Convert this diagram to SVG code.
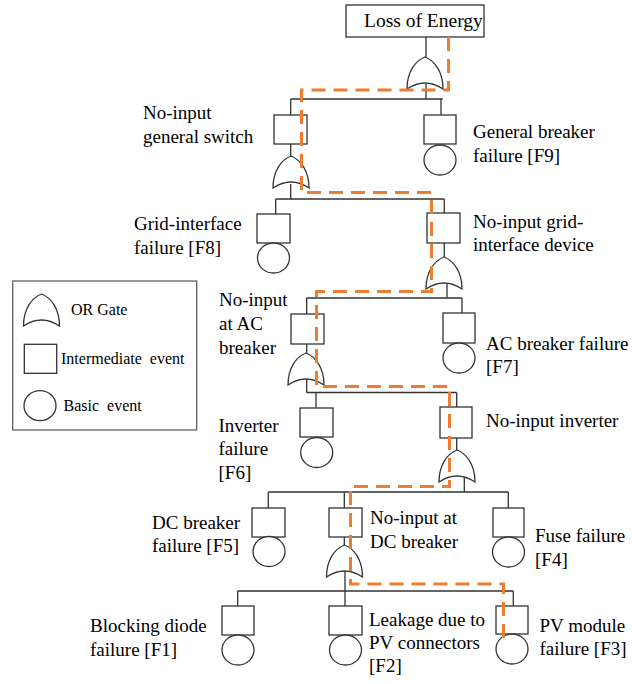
<svg xmlns="http://www.w3.org/2000/svg" xmlns:xlink="http://www.w3.org/1999/xlink" width="632" height="684" viewBox="0 0 632 684">
<style>
.ln{stroke:#333;stroke-width:1.3;fill:none}
.bx{stroke:#333;stroke-width:1.3;fill:#fff}
text{font-family:'Liberation Serif','Times New Roman','DejaVu Serif',serif;fill:#000}
.t{font-size:19px}
.lg{font-size:16px}
.path{stroke:#ED7D31;stroke-width:3;fill:none;stroke-dasharray:14 8}
</style>
<defs>
<path id="or" d="M -18,32 C -18,15 -10,4 0,0 C 10,4 18,15 18,32 Q 0,20 -18,32 Z" stroke="#333" stroke-width="1.3" fill="#fff"/>
</defs>
<rect width="632" height="684" fill="#fff"/>

<g id="connectors">
<path class="ln" d="M426,37V57 M426,84V99 M290.7,99H442.7 M290.7,99V115 M441,99V115"/>
<path class="ln" d="M290.7,144V156 M290.7,184V199 M275.7,199H444.3 M275.7,199V214 M444.3,199V213"/>
<path class="ln" d="M444.3,243V257 M447,284V298 M306.7,298H462 M306.7,298V314 M462,298V313"/>
<path class="ln" d="M306.7,344V353 M306.7,378V392.5 M306.7,392.5H456.7 M316,392.5V408 M456.7,392.5V407"/>
<path class="ln" d="M456.7,438V450 M464.3,477V492 M268.3,492H508.3 M268.3,492V508 M344.3,492V508 M508.3,492V508"/>
<path class="ln" d="M344.3,537V545 M345,571V591 M237.7,591H513.3 M237.7,591V606 M345,591V606 M513.3,591V606"/>
</g>

<g id="top-event">
<rect class="bx" x="346" y="5" width="138" height="32"/>
<text class="t" x="364" y="27" style="font-size:19.5px">Loss of Energy</text>
</g>

<g id="gate1"><use xlink:href="#or" transform="translate(425,57)"/></g>

<g id="no-input-general-switch">
<rect class="bx" x="274" y="115" width="33" height="29"/>
<text class="t" x="143" y="119">No-input</text>
<text class="t" x="143" y="142.5">general switch</text>
</g>
<g id="general-breaker-failure">
<rect class="bx" x="424" y="115" width="32" height="29"/>
<ellipse class="bx" cx="440" cy="160" rx="16" ry="15"/>
<text class="t" x="473" y="138">General breaker</text>
<text class="t" x="473" y="161.5">failure [F9]</text>
</g>

<g id="gate2"><use xlink:href="#or" transform="translate(291,156)"/></g>

<g id="grid-interface-failure">
<rect class="bx" x="257" y="214" width="33" height="29"/>
<ellipse class="bx" cx="273.5" cy="258" rx="16" ry="15"/>
<text class="t" x="134" y="230">Grid-interface</text>
<text class="t" x="134" y="253.5">failure [F8]</text>
</g>
<g id="no-input-grid-interface-device">
<rect class="bx" x="427" y="213" width="33" height="30"/>
<text class="t" x="473" y="227.5">No-input grid-</text>
<text class="t" x="473" y="251">interface device</text>
</g>

<g id="gate3"><use xlink:href="#or" transform="translate(444,257)"/></g>

<g id="no-input-ac-breaker">
<rect class="bx" x="291" y="314" width="33" height="30"/>
<text class="t" x="219" y="305.5">No-input</text>
<text class="t" x="219" y="330">at AC</text>
<text class="t" x="219" y="354">breaker</text>
</g>
<g id="ac-breaker-failure">
<rect class="bx" x="443" y="313" width="32" height="30"/>
<ellipse class="bx" cx="459" cy="358" rx="16" ry="15"/>
<text class="t" x="486" y="349.5">AC breaker failure</text>
<text class="t" x="486" y="373">[F7]</text>
</g>

<g id="gate4"><use xlink:href="#or" transform="translate(306,353)"/></g>

<g id="inverter-failure">
<rect class="bx" x="300" y="408" width="33" height="29"/>
<ellipse class="bx" cx="316.7" cy="452.5" rx="16" ry="15"/>
<text class="t" x="218.5" y="432">Inverter</text>
<text class="t" x="218.5" y="455">failure</text>
<text class="t" x="218.5" y="478.5">[F6]</text>
</g>
<g id="no-input-inverter">
<rect class="bx" x="440" y="407" width="32" height="31"/>
<text class="t" x="486" y="427">No-input inverter</text>
</g>

<g id="gate5"><use xlink:href="#or" transform="translate(457,450)"/></g>

<g id="dc-breaker-failure">
<rect class="bx" x="252" y="508" width="33" height="29"/>
<ellipse class="bx" cx="269" cy="551.5" rx="16" ry="15"/>
<text class="t" x="152" y="528.5">DC breaker</text>
<text class="t" x="152" y="552">failure [F5]</text>
</g>
<g id="no-input-dc-breaker">
<rect class="bx" x="329" y="508" width="33" height="29"/>
<text class="t" x="370" y="524">No-input at</text>
<text class="t" x="370" y="548">DC breaker</text>
</g>
<g id="fuse-failure">
<rect class="bx" x="493" y="508" width="31" height="29"/>
<ellipse class="bx" cx="508.5" cy="552" rx="16" ry="15"/>
<text class="t" x="535" y="542">Fuse failure</text>
<text class="t" x="535" y="565.5">[F4]</text>
</g>

<g id="gate6"><use xlink:href="#or" transform="translate(344.5,545)"/></g>

<g id="blocking-diode-failure">
<rect class="bx" x="222" y="606" width="32" height="29"/>
<ellipse class="bx" cx="238" cy="650" rx="16" ry="15"/>
<text class="t" x="90" y="632">Blocking diode</text>
<text class="t" x="90" y="655.5">failure [F1]</text>
</g>
<g id="leakage-pv-connectors">
<rect class="bx" x="329" y="606" width="33" height="29"/>
<ellipse class="bx" cx="345.5" cy="650" rx="16" ry="15"/>
<text class="t" x="369" y="625.5">Leakage due to</text>
<text class="t" x="369" y="648.5">PV connectors</text>
<text class="t" x="369" y="672">[F2]</text>
</g>
<g id="pv-module-failure">
<rect class="bx" x="496" y="606" width="32" height="28"/>
<ellipse class="bx" cx="512" cy="649" rx="16" ry="15"/>
<text class="t" x="539.5" y="631.5">PV module</text>
<text class="t" x="539.5" y="654.5">failure [F3]</text>
</g>

<g id="critical-path">
<path class="path" d="M448.5,37V90H301.5V192.5H431.5V291.5H316.5V386.5H449.5V486.5H350.5V584H503.5V640"/>
</g>

<g id="legend">
<rect x="12.7" y="281" width="184" height="149" fill="none" stroke="#555" stroke-width="1.2"/>
<use xlink:href="#or" transform="translate(41.5,294)"/>
<text class="lg" x="71" y="314.5">OR Gate</text>
<rect class="bx" x="24.3" y="344.3" width="32.4" height="29"/>
<text class="lg" x="61" y="364" xml:space="preserve">Intermediate  event</text>
<ellipse class="bx" cx="40" cy="405.7" rx="16" ry="15"/>
<text class="lg" x="63.5" y="410.7" xml:space="preserve">Basic  event</text>
</g>
</svg>
